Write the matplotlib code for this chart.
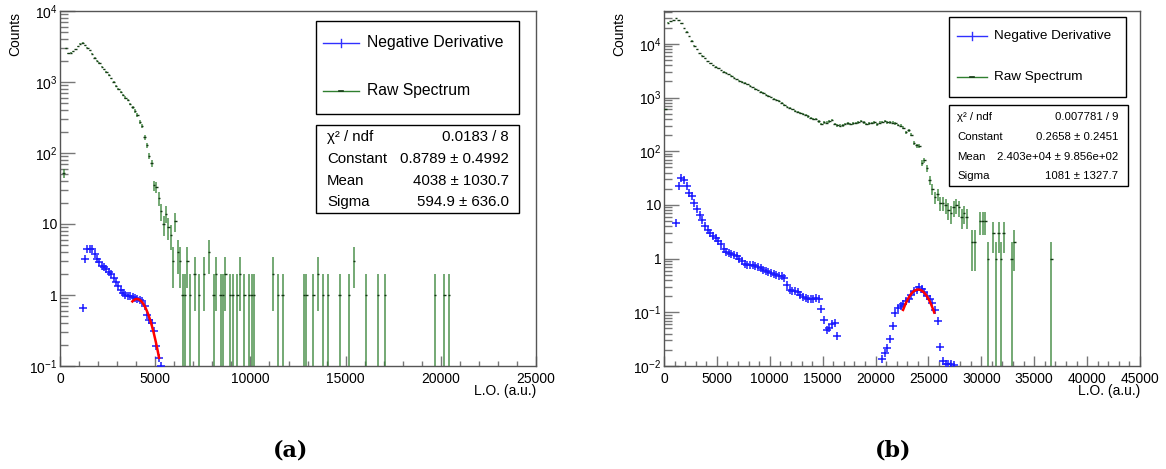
import numpy as np
import matplotlib
matplotlib.use("Agg")
from matplotlib import pyplot as plt
from matplotlib.ticker import FixedLocator, FixedFormatter, LogLocator, NullFormatter, MultipleLocator
from matplotlib.patches import Rectangle

plt.rcParams['font.family'] = ['Liberation Sans', 'DejaVu Sans']
plt.rcParams['mathtext.fontset'] = 'custom'
plt.rcParams['mathtext.rm'] = 'Liberation Sans'
plt.rcParams['mathtext.it'] = 'Liberation Sans:italic'

# ---------------- panel (a) data ----------------
raw_a_x = [187.5, 312.5, 437.5, 562.5, 687.5, 812.5, 937.5, 1062.5, 1187.5, 1312.5,
           1437.5, 1562.5, 1687.5, 1812.5, 1937.5, 2062.5, 2187.5, 2312.5, 2437.5, 2562.5,
           2687.5, 2812.5, 2937.5, 3062.5, 3187.5, 3312.5, 3437.5, 3562.5, 3687.5, 3812.5,
           3937.5, 4062.5, 4187.5, 4312.5, 4437.5, 4562.5, 4687.5, 4812.5, 4937.5, 5062.5,
           5187.5, 5312.5, 5437.5, 5562.5, 5687.5, 5812.5, 5937.5, 6062.5, 6187.5, 6312.5,
           6437.5, 6562.5, 6687.5, 6812.5, 7062.5, 7312.5, 7562.5, 7812.5, 8062.5, 8187.5,
           8437.5, 8562.5, 8687.5, 8937.5, 9062.5, 9312.5, 9437.5, 9687.5, 9937.5, 10062.5,
           10187.5, 11187.5, 11437.5, 11687.5, 12812.5, 12937.5, 13312.5, 13562.5, 13812.5, 14062.5,
           14687.5, 15187.5, 15437.5, 16062.5, 16687.5, 17062.5, 19687.5, 20187.5, 20437.5]
raw_a_y = [52, 3000, 2550, 2600, 2700, 2900, 3200, 3450, 3550, 3300,
           3050, 2800, 2500, 2200, 2000, 1850, 1650, 1500, 1380, 1250,
           1120, 1000, 880, 800, 720, 650, 600, 560, 490, 440,
           390, 345, 275, 240, 166, 128, 91, 72, 35, 33,
           23, 15, 10, 14, 9, 7, 3, 11, 4, 3,
           1, 1, 3, 1, 2, 1, 2, 4, 1, 2,
           1, 1, 2, 1, 1, 1, 2, 1, 1, 1,
           1, 2, 1, 1, 1, 1, 1, 2, 1, 1,
           1, 1, 3, 1, 1, 1, 1, 1, 1]

deriv_a_x = [1187.5, 1312.5, 1437.5, 1562.5, 1687.5, 1812.5, 1937.5, 2062.5, 2187.5, 2312.5,
             2437.5, 2562.5, 2687.5, 2812.5, 2937.5, 3062.5, 3187.5, 3312.5, 3437.5, 3562.5,
             3687.5, 3812.5, 3937.5, 4062.5, 4187.5, 4312.5, 4437.5, 4562.5, 4687.5, 4812.5,
             4937.5, 5062.5, 5187.5, 5312.5]
deriv_a_y = [0.65, 3.2, 4.45, 4.5, 4.4, 3.8, 3.2, 2.95, 2.6, 2.45,
             2.3, 2.1, 1.95, 1.75, 1.5, 1.34, 1.17, 1.06, 1.0, 0.98,
             0.97, 0.95, 0.92, 0.88, 0.86, 0.82, 0.7, 0.52, 0.45, 0.40,
             0.31, 0.19, 0.13, 0.10]

fit_a = dict(const=0.8789, mean=4038.0, sigma=594.9, lo=3800, hi=5200)
stats_a = [("χ² / ndf", "0.0183 / 8"),
           ("Constant", "0.8789 ± 0.4992"),
           ("Mean", "4038 ± 1030.7"),
           ("Sigma", "594.9 ± 636.0")]
yticks_a = [1e-1, 1, 10, 1e2, 1e3, 1e4]
ylabels_a = [r'$10^{-1}$', '1', '10', r'$10^{2}$', r'$10^{3}$', r'$10^{4}$']

# ---------------- panel (b) data ----------------
raw_b_x = [125, 375, 625, 875, 1125, 1375, 1625, 1875, 2125, 2375,
           2625, 2875, 3125, 3375, 3625, 3875, 4125, 4375, 4625, 4875,
           5125, 5375, 5625, 5875, 6125, 6375, 6625, 6875, 7125, 7375,
           7625, 7875, 8125, 8375, 8625, 8875, 9125, 9375, 9625, 9875,
           10125, 10375, 10625, 10875, 11125, 11375, 11625, 11875, 12125, 12375,
           12625, 12875, 13125, 13375, 13625, 13875, 14125, 14375, 14625, 14875,
           15125, 15375, 15625, 15875, 16125, 16375, 16625, 16875, 17125, 17375,
           17625, 17875, 18125, 18375, 18625, 18875, 19125, 19375, 19625, 19875,
           20125, 20375, 20625, 20875, 21125, 21375, 21625, 21875, 22125, 22375,
           22625, 22875, 23125, 23375, 23625, 23875, 24125, 24375, 24625, 24875,
           25125, 25375, 25625, 25875, 26125, 26375, 26625, 26875, 27125, 27375,
           27625, 27875, 28125, 28375, 28625, 29125, 29375, 29875, 30125, 30375,
           30625, 31125, 31375, 31625, 31875, 32125, 32875, 33125, 36625]
raw_b_y = [600, 25000, 26500, 28000, 30000, 27500, 24000, 20000, 17000, 14000,
           11500, 9300, 7900, 6800, 6000, 5400, 4800, 4350, 4000, 3750,
           3500, 3250, 3050, 2900, 2700, 2550, 2350, 2200, 2050, 1950,
           1870, 1780, 1650, 1550, 1440, 1370, 1290, 1210, 1140, 1060,
           1010, 960, 920, 870, 800, 720, 680, 640, 600, 570,
           540, 510, 490, 475, 445, 420, 405, 395, 360, 320,
           345, 340, 360, 385, 320, 305, 300, 305, 325, 330,
           320, 330, 335, 345, 365, 345, 320, 330, 335, 345,
           315, 340, 355, 370, 345, 345, 340, 330, 310, 300,
           275, 225, 245, 205, 145, 128, 125, 60, 68, 48,
           29, 20, 14, 16, 11, 11, 10, 8, 7, 9,
           10, 9, 6, 7, 6, 2, 2, 5, 5, 5,
           1, 3, 1, 3, 1, 3, 1, 2, 1]

deriv_b_x = [1125, 1375, 1625, 1875, 2125, 2375, 2625, 2875, 3125, 3375,
             3625, 3875, 4125, 4375, 4625, 4875, 5125, 5375, 5625, 5875,
             6125, 6375, 6625, 6875, 7125, 7375, 7625, 7875, 8125, 8375,
             8625, 8875, 9125, 9375, 9625, 9875, 10125, 10375, 10625, 10875,
             11125, 11375, 11625, 11875, 12125, 12375, 12625, 12875, 13125, 13375,
             13625, 13875, 14125, 14375, 14625, 14875, 15125, 15375, 15625, 15875,
             16125, 16375,
             20625, 20875, 21125, 21375, 21625, 21875, 22125, 22375, 22625, 22875,
             23125, 23375, 23625, 23875, 24125, 24375, 24625, 24875, 25125, 25375,
             25625, 25875, 26125, 26375, 26625, 26875, 27125, 27375]
deriv_b_y = [4.6, 22.7, 32, 29.5, 22.7, 17, 14.4, 10.7, 8.3, 6.5,
             5.2, 4.1, 3.4, 3.0, 2.6, 2.4, 2.1, 1.86, 1.5, 1.35,
             1.3, 1.22, 1.15, 1.1, 1.0, 0.91, 0.79, 0.77, 0.76, 0.75,
             0.74, 0.70, 0.68, 0.62, 0.58, 0.57, 0.55, 0.52, 0.49, 0.48,
             0.47, 0.44, 0.32, 0.26, 0.245, 0.245, 0.24, 0.21, 0.197, 0.186,
             0.178, 0.178, 0.178, 0.186, 0.18, 0.115, 0.071, 0.047, 0.052, 0.06,
             0.062, 0.036,
             0.0136, 0.0174, 0.0213, 0.0315, 0.056, 0.097, 0.12, 0.13, 0.145, 0.16,
             0.178, 0.21, 0.245, 0.26, 0.29, 0.27, 0.235, 0.20, 0.178, 0.15,
             0.112, 0.068, 0.0227, 0.0122, 0.011, 0.011, 0.011, 0.0105]

fit_b = dict(const=0.2658, mean=24030.0, sigma=1081.0, lo=22600, hi=25550)
stats_b = [("χ² / ndf", "0.007781 / 9"),
           ("Constant", "0.2658 ± 0.2451"),
           ("Mean", "2.403e+04 ± 9.856e+02"),
           ("Sigma", "1081 ± 1327.7")]
yticks_b = [1e-2, 1e-1, 1, 10, 1e2, 1e3, 1e4]
ylabels_b = [r'$10^{-2}$', r'$10^{-1}$', '1', '10', r'$10^{2}$', r'$10^{3}$', r'$10^{4}$']

GREEN = '#2f7f2f'
DARK = '#143814'
FRAME = '#555555'


def draw_panel(ax, raw_x, raw_y, bw, der_x, der_y, fit, xmax, ymin, ymax,
               yticks, ylabels, ms):
    raw_x = np.array(raw_x)
    raw_y = np.array(raw_y, dtype=float)
    ax.set_yscale('log', nonpositive='clip')
    ax.errorbar(raw_x, raw_y, yerr=np.sqrt(raw_y), fmt='none', ecolor=GREEN,
                elinewidth=1.1, alpha=0.85, zorder=2)
    ax.errorbar(raw_x, raw_y, xerr=bw / 2, fmt='none', ecolor=DARK,
                elinewidth=1.0, zorder=3)
    ax.plot(der_x, der_y, ls='none', marker='+', ms=ms, mew=1.1, color='#1a1aff', zorder=4)
    fx = np.linspace(fit['lo'], fit['hi'], 200)
    fy = fit['const'] * np.exp(-0.5 * ((fx - fit['mean']) / fit['sigma']) ** 2)
    ax.plot(fx, fy, color='red', lw=1.8, zorder=5)

    ax.set_xlim(0, xmax)
    ax.set_ylim(ymin, ymax)
    ax.yaxis.set_major_locator(FixedLocator(yticks))
    ax.yaxis.set_major_formatter(FixedFormatter(ylabels))
    ax.yaxis.set_minor_locator(LogLocator(base=10, subs=np.arange(2, 10), numticks=20))
    ax.yaxis.set_minor_formatter(NullFormatter())
    ax.xaxis.set_major_locator(MultipleLocator(5000))
    ax.xaxis.set_minor_locator(MultipleLocator(1000))
    ax.tick_params(axis='y', which='major', direction='in', length=11, width=1,
                   color='#777777', labelsize=10, pad=2)
    ax.tick_params(axis='y', which='minor', direction='in', length=6, width=1,
                   color='#777777')
    ax.tick_params(axis='x', which='major', direction='in', length=7, width=1,
                   color='#777777', labelsize=10, pad=4)
    ax.tick_params(axis='x', which='minor', direction='in', length=3.5, width=1,
                   color='#777777')
    for s in ax.spines.values():
        s.set_color(FRAME)
        s.set_linewidth(1)


def draw_boxes(ax, leg, stats, fs_leg, fs_st):
    # legend box
    x0, x1, y0, y1 = leg['box']
    ax.add_patch(Rectangle((x0, y0), x1 - x0, y1 - y0, transform=ax.transAxes,
                           facecolor='white', edgecolor='black', lw=1, zorder=10))
    la, lb = leg['line']
    r1, r2 = leg['rows']
    mid = (la + lb) / 2
    ax.plot([la, lb], [r1, r1], transform=ax.transAxes, color='#3030ff', lw=1, zorder=11)
    ax.plot([mid, mid], [r1 - 0.012, r1 + 0.012], transform=ax.transAxes,
            color='#3030ff', lw=1, zorder=11)
    ax.plot([la, lb], [r2, r2], transform=ax.transAxes, color=GREEN, lw=1, zorder=11)
    ax.plot([mid - 0.004, mid + 0.004], [r2, r2], transform=ax.transAxes,
            color=DARK, lw=1.2, zorder=12)
    ax.text(leg['tx'], r1, "Negative Derivative", transform=ax.transAxes,
            fontsize=fs_leg, va='center', ha='left', zorder=12)
    ax.text(leg['tx'], r2, "Raw Spectrum", transform=ax.transAxes,
            fontsize=fs_leg, va='center', ha='left', zorder=12)

    # stats box
    x0, x1, y0, y1 = stats['box']
    ax.add_patch(Rectangle((x0, y0), x1 - x0, y1 - y0, transform=ax.transAxes,
                           facecolor='white', edgecolor='black', lw=1, zorder=10))
    for (name, val), ry in zip(stats['text'], stats['rows']):
        ax.text(stats['nx'], ry, name, transform=ax.transAxes, fontsize=fs_st,
                va='center', ha='left', zorder=12)
        ax.text(stats['vx'], ry, val, transform=ax.transAxes, fontsize=fs_st,
                va='center', ha='right', zorder=12)


fig = plt.figure(figsize=(11.66, 4.69), dpi=100)
ax_a = fig.add_axes([0.0515, 0.2196, 0.4082, 0.757])
ax_b = fig.add_axes([0.5695, 0.2196, 0.4082, 0.757])

draw_panel(ax_a, raw_a_x, raw_a_y, 125, deriv_a_x, deriv_a_y, fit_a,
           25000, 0.1, 1e4, yticks_a, ylabels_a, 6)
draw_panel(ax_b, raw_b_x, raw_b_y, 250, deriv_b_x, deriv_b_y, fit_b,
           45000, 0.01, 4.1e4, yticks_b, ylabels_b, 5.5)

draw_boxes(ax_a,
           dict(box=(0.538, 0.964, 0.710, 0.972), line=(0.5525, 0.628),
                rows=(0.910, 0.775), tx=0.645),
           dict(box=(0.538, 0.964, 0.431, 0.679), rows=(0.645, 0.582, 0.520, 0.462),
                nx=0.561, vx=0.943, text=stats_a),
           11.3, 10.8)
draw_boxes(ax_b,
           dict(box=(0.599, 0.9706, 0.758, 0.983), line=(0.6155, 0.6786),
                rows=(0.930, 0.814), tx=0.693),
           dict(box=(0.599, 0.975, 0.507, 0.735), rows=(0.701, 0.645, 0.589, 0.535),
                nx=0.6155, vx=0.954, text=stats_b),
           9.7, 8.2)

# axis titles, ROOT style
fig.text(15 / 1166, 1 - 12 / 469, "Counts", rotation=90, ha='center', va='top', fontsize=10)
fig.text(619 / 1166, 1 - 12 / 469, "Counts", rotation=90, ha='center', va='top', fontsize=10)
fig.text(536 / 1166, 1 - 391 / 469, "L.O. (a.u.)", ha='right', va='center', fontsize=10)
fig.text(1140 / 1166, 1 - 391 / 469, "L.O. (a.u.)", ha='right', va='center', fontsize=10)

# sub-figure captions
fig.text(291 / 1166, 1 - 450 / 469, "(a)", ha='center', va='center',
         fontsize=16, family='DejaVu Serif', weight='bold')
fig.text(893 / 1166, 1 - 450 / 469, "(b)", ha='center', va='center',
         fontsize=16, family='DejaVu Serif', weight='bold')

fig.savefig("out.png", dpi=100)
